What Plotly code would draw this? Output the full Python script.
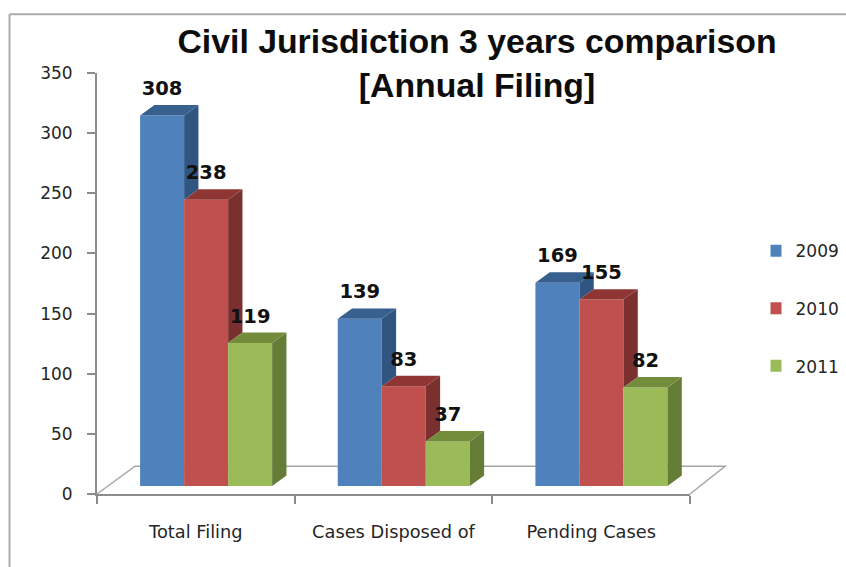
import plotly.graph_objects as go

categories = ["Total Filing", "Cases Disposed of", "Pending Cases"]
series_names = ["2009", "2010", "2011"]
values_2009 = [308, 139, 169]
values_2010 = [238, 83, 155]
values_2011 = [119, 37, 82]
y_ticks = [0, 50, 100, 150, 200, 250, 300, 350]

front_colors = ["#4F81BD", "#C0504D", "#9BBB59"]
top_colors = ["#37608F", "#8F3634", "#728C3C"]
side_colors = ["#315581", "#7A302E", "#667D38"]
AXIS_GRAY = "#8C8C8C"
TEXT = "#262626"

series = [values_2009, values_2010, values_2011]
centers = list(range(len(categories)))

# pseudo-3D projection constants, in axis units
GROUP_W = 0.668
BAR_W = GROUP_W / 3
SHIFT = 0.052      # bars sit recessed to the right of the category centre
FLOOR = 6.6        # bars stand behind the front axis line
DX = 0.0725        # depth in x
DY = 8.7           # depth in y
LABEL_UP = 21      # label centre above the bar's front top

FIG_W, FIG_H = 846, 567
PLOT_L, PLOT_R, PLOT_T, PLOT_B = 97, 690, 72.5, 494.5


def paper_x(px):
    return (px - PLOT_L) / (PLOT_R - PLOT_L)


def paper_y(py):
    return (PLOT_B - py) / (PLOT_B - PLOT_T)


fig = go.Figure()

# front faces
for s, (name, vals) in enumerate(zip(series_names, series)):
    fig.add_trace(go.Bar(
        name=name, x=[c + SHIFT for c in centers], y=vals, base=FLOOR,
        marker=dict(color=front_colors[s], line=dict(width=0)),
        legendgroup=name))

# side and top faces, derived from the values
for s, vals in enumerate(series):
    nxt = series[s + 1] if s + 1 < len(series) else [0] * len(vals)
    for c, v, n in zip(centers, vals, nxt):
        x0 = c + SHIFT - GROUP_W / 2 + s * BAR_W
        x1 = x0 + BAR_W
        top = v + FLOOR
        low = n + FLOOR
        fig.add_trace(go.Scatter(
            x=[x1, x1 + DX, x1 + DX, x1, x1],
            y=[top, top + DY, low + DY, low, top],
            mode="lines", line=dict(width=0), fill="toself",
            fillcolor=side_colors[s], showlegend=False, hoverinfo="skip"))
        fig.add_trace(go.Scatter(
            x=[x0, x0 + DX, x1 + DX, x1, x0],
            y=[top, top + DY, top + DY, top, top],
            mode="lines", line=dict(width=0), fill="toself",
            fillcolor=top_colors[s], showlegend=False, hoverinfo="skip"))

# data labels
for s, vals in enumerate(series):
    fig.add_trace(go.Scatter(
        x=[c + SHIFT - GROUP_W / 2 + (s + 0.5) * BAR_W for c in centers],
        y=[v + FLOOR + LABEL_UP for v in vals],
        text=[str(v) for v in vals], mode="text", textposition="middle center",
        textfont=dict(family="DejaVu Sans", size=19.5, color="#111111", weight="bold"),
        cliponaxis=False, showlegend=False, hoverinfo="skip"))

floor_path = "M {} {} L {} {} L {} {} L {} {}".format(
    paper_x(97), paper_y(494.5), paper_x(135), paper_y(466.7),
    paper_x(725), paper_y(466.7), paper_x(690), paper_y(494.5))

fig.update_layout(
    width=FIG_W, height=FIG_H,
    margin=dict(l=PLOT_L, r=FIG_W - PLOT_R, t=PLOT_T, b=FIG_H - PLOT_B,
                pad=0, autoexpand=False),
    paper_bgcolor="white", plot_bgcolor="rgba(0,0,0,0)",
    barmode="group", bargap=1 - GROUP_W, bargroupgap=0,
    title=dict(
        text="Civil Jurisdiction 3 years comparison<br>[Annual Filing]",
        font=dict(family="Liberation Sans", size=33.8, color="#0D0D0D", weight="bold"),
        x=477 / FIG_W, xanchor="center", y=1 - 53 / FIG_H,
    ),
    xaxis=dict(
        range=[-0.5, 2.5], tickmode="array", tickvals=centers, ticktext=categories,
        ticks="", showgrid=False, zeroline=False, showline=True,
        linecolor=AXIS_GRAY, linewidth=2,
        ticklabelstandoff=21,
        tickfont=dict(family="DejaVu Sans", size=17.8, color=TEXT),
        minor=dict(tickmode="array", tickvals=[-0.5, 0.5, 1.5, 2.5], ticks="outside",
                   ticklen=8, tickwidth=1.5, tickcolor=AXIS_GRAY, showgrid=False),
    ),
    yaxis=dict(
        range=[0, 350], tickmode="array", tickvals=y_ticks,
        ticks="outside", ticklen=8, tickwidth=1.5, tickcolor=AXIS_GRAY,
        showgrid=False, zeroline=False, showline=True,
        linecolor=AXIS_GRAY, linewidth=2, ticklabelstandoff=11,
        tickfont=dict(family="DejaVu Sans", size=17, color=TEXT),
    ),
    legend=dict(
        x=paper_x(770.5), xanchor="left", y=paper_y(233), yanchor="top",
        tracegroupgap=32.5, indentation=-15, itemclick=False,
        font=dict(family="DejaVu Sans", size=17, color=TEXT),
        bgcolor="rgba(0,0,0,0)",
    ),
    shapes=[
        dict(type="line", xref="paper", yref="paper", x0=paper_x(9.5), x1=paper_x(860),
             y0=paper_y(13.5), y1=paper_y(13.5), line=dict(color="#ABABAB", width=2)),
        dict(type="line", xref="paper", yref="paper", x0=paper_x(9.5), x1=paper_x(9.5),
             y0=paper_y(13.5), y1=paper_y(580), line=dict(color="#ABABAB", width=2)),
        dict(type="path", xref="paper", yref="paper", path=floor_path, layer="below",
             line=dict(color="#A6A6A6", width=1.5)),
    ],
)

fig.write_html("out.html", post_script="document.body.style.margin='0';",
               config={"displayModeBar": False})
